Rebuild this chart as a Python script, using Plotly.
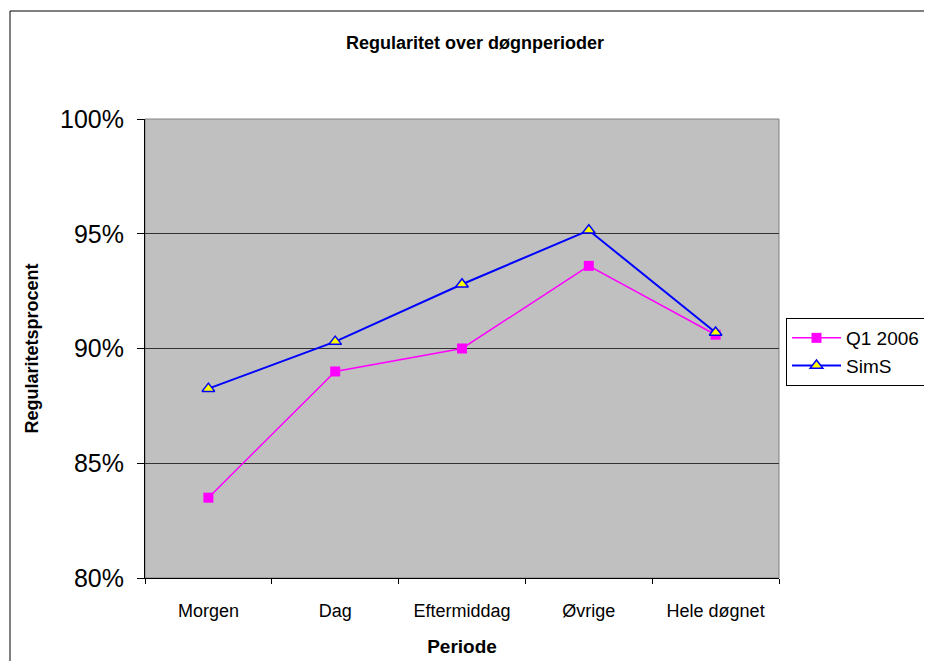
import plotly.graph_objects as go

categories = ["Morgen", "Dag", "Eftermiddag", "Øvrige", "Hele døgnet"]
q1_2006 = [0.835, 0.890, 0.900, 0.936, 0.906]
sims = [0.8825, 0.903, 0.928, 0.9515, 0.907]
y_ticks = [0.80, 0.85, 0.90, 0.95, 1.00]

fig = go.Figure()
fig.add_trace(go.Scatter(
    x=categories, y=q1_2006, name="Q1 2006", mode="lines+markers",
    line=dict(color="#FF00FF", width=1.5),
    marker=dict(symbol="square", size=10, color="#FF00FF"),
))
fig.add_trace(go.Scatter(
    x=categories, y=sims, name="SimS", mode="lines+markers",
    line=dict(color="#0000FF", width=2),
    marker=dict(symbol="triangle-up", size=11, color="#FFFF00",
                line=dict(color="#0000FF", width=1.5)),
))

# page body adds an 8px offset; figure coords = screen coords - 8
OFF = 8
W, H = 932 - OFF, 661 - OFF
L, T = 145 - OFF, 119 - OFF
R = W - (779 - OFF)
B = H - (578 - OFF)
pw, ph = W - L - R, H - T - B

def px(x):
    return (x - OFF - L) / pw

def py(y):
    return (H - B - (y - OFF)) / ph

fig.update_layout(
    width=W, height=H,
    margin=dict(l=L, r=R, t=T, b=B, autoexpand=False),
    paper_bgcolor="white",
    plot_bgcolor="#C0C0C0",
    font=dict(family="Arial, Liberation Sans, sans-serif", color="black"),
    title=dict(text="<b>Regularitet over døgnperioder</b>", xref="paper",
               x=px(475), xanchor="center", y=1 - (43 - OFF) / H, yanchor="middle",
               font=dict(size=18)),
    showlegend=True,
    legend=dict(x=px(786), y=py(318), xanchor="left", yanchor="top",
                bgcolor="white", bordercolor="black", borderwidth=1,
                font=dict(size=19), itemwidth=49, tracegroupgap=4),
    xaxis=dict(
        type="category", range=[-0.5, 4.5], tickson="boundaries",
        ticks="outside", ticklen=5, tickcolor="black",
        showline=True, linecolor="black", linewidth=1,
        showgrid=False, tickfont=dict(size=18), ticklabelstandoff=16,
        title=dict(text="<b>Periode</b>", font=dict(size=19), standoff=20),
    ),
    yaxis=dict(
        range=[0.80, 1.00], tickvals=y_ticks, tickformat=".0%",
        ticks="outside", ticklen=7, tickcolor="black",
        showline=True, linecolor="black", linewidth=1,
        showgrid=True, gridcolor="#333333", gridwidth=1,
        tickfont=dict(size=25), zeroline=False, ticklabelstandoff=8,
        title=dict(text="<b>Regularitetsprocent</b>", font=dict(size=18), standoff=16),
    ),
    shapes=[
        dict(type="rect", xref="paper", yref="paper", x0=0, x1=1, y0=0, y1=1,
             line=dict(color="#808080", width=1), fillcolor="rgba(0,0,0,0)", layer="below"),
        dict(type="rect", xref="paper", yref="paper",
             x0=px(10), x1=px(945), y0=py(680), y1=py(11),
             line=dict(color="black", width=1), fillcolor="rgba(0,0,0,0)"),
    ],
)

fig.write_html("out.html")
